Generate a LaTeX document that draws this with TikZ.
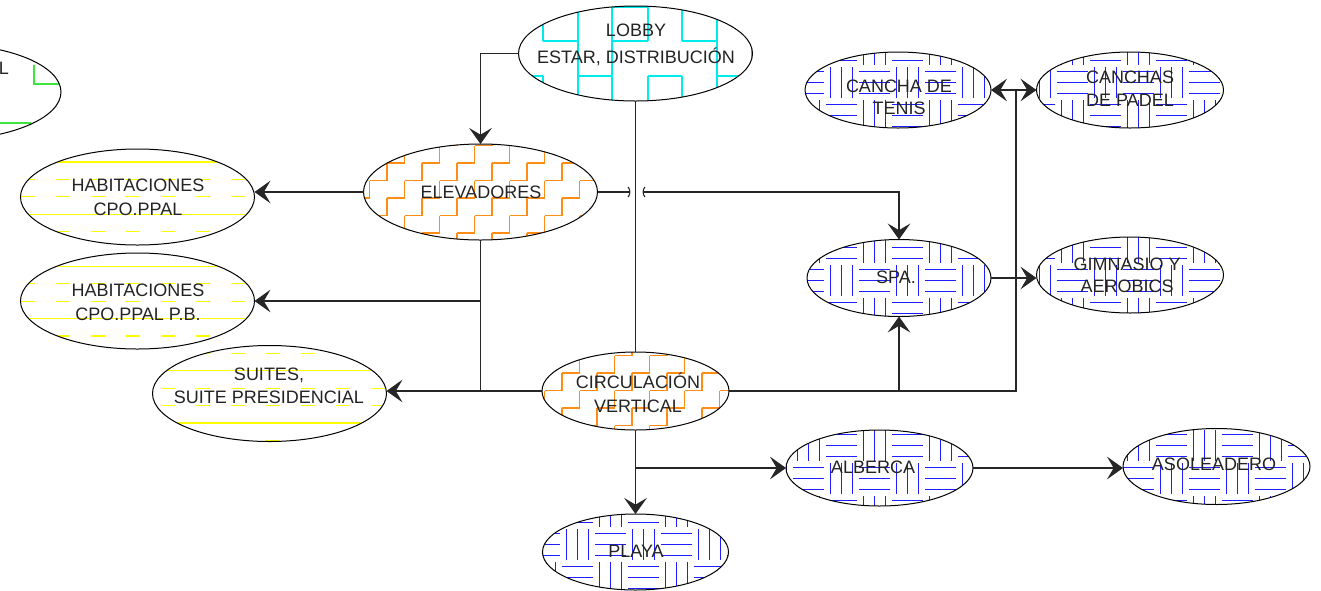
\documentclass[tikz,border=0pt]{standalone}
\usepackage{fontspec}
\setmainfont{Liberation Sans}
\usetikzlibrary{shapes.geometric,arrows.meta,calc}

\definecolor{hatchblue}{RGB}{30,30,255}
\definecolor{hatchorange}{RGB}{255,140,20}
\definecolor{hatchyellow}{RGB}{255,255,0}
\definecolor{hatchcyan}{RGB}{0,235,235}
\definecolor{hatchgreen}{RGB}{60,230,60}
\definecolor{ink}{RGB}{35,35,35}

\tikzset{
  x=0.75pt, y=-0.75pt,
  bigell/.style={ellipse, draw=black, line width=0.75pt, inner sep=0pt, outer sep=0pt,
    minimum width=175.5pt, minimum height=72pt},
  smallell/.style={ellipse, draw=black, line width=0.75pt, inner sep=0pt, outer sep=0pt,
    minimum width=139.5pt, minimum height=57pt},
  lbl/.style={align=center, text=ink, inner sep=0pt, font=\fontsize{13.5}{18}\selectfont},
  wire/.style={draw=black!85, line width=0.8pt},
  tip/.tip={Stealth[length=12pt, width=17pt, inset=5pt]},
  arr/.style={wire, -tip},
  weave/.style={draw=hatchblue, line width=0.85pt},
  stair/.style={draw=hatchorange, line width=0.8pt},
  stripe/.style={draw=hatchyellow, line width=0.9pt},
  gridline/.style={line width=0.8pt},
}

% basket-weave hatch clipped to an ellipse: centre x, centre y, x radius, y radius
\newcommand{\weavefill}[4]{%
  \begin{scope}
    \clip (#1,#2) ellipse [x radius=#3, y radius=#4];
    \pgfmathtruncatemacro\wia{(#1-#3)/33-1}
    \pgfmathtruncatemacro\wib{(#1+#3)/33+1}
    \pgfmathtruncatemacro\wja{(#2-#4)/33-1}
    \pgfmathtruncatemacro\wjb{(#2+#4)/33+1}
    \foreach \i in {\wia,...,\wib}{
      \foreach \j in {\wja,...,\wjb}{
        \pgfmathtruncatemacro\wpar{mod(\i+\j,2)}
        \ifnum\wpar=0
          \foreach \k in {5.5,16.5,27.5}
            \draw[weave] ({\i*33+1},{\j*33+\k}) -- ++(31,0);
        \else
          \foreach \k in {5.5,16.5,27.5}
            \draw[weave] ({\i*33+\k},{\j*33+1}) -- ++(0,31);
        \fi
      }
    }
  \end{scope}}

% stair-step hatch clipped to an ellipse
\newcommand{\stairfill}[4]{%
  \begin{scope}
    \clip (#1,#2) ellipse [x radius=#3, y radius=#4];
    \pgfmathtruncatemacro\sia{(#1-#3-19.5)/17.5-2}
    \pgfmathtruncatemacro\sib{(#1+#3-19.5)/17.5+1}
    \pgfmathtruncatemacro\sja{(#2-#4-5.5)/17.5-1}
    \pgfmathtruncatemacro\sjb{(#2+#4-5.5)/17.5+2}
    \foreach \p in {\sia,...,\sib}{
      \foreach \q in {\sja,...,\sjb}{
        \pgfmathtruncatemacro\spar{mod(\p+\q,2)}
        \ifnum\spar=0
          \draw[stair] ({\p*17.5+19.5},{\q*17.5+5.5}) -- ++(17.5,0) -- ++(0,-17.5);
        \fi
      }
    }
  \end{scope}}

% horizontal stripes (one solid, two dashed) clipped to an ellipse
\newcommand{\stripefill}[4]{%
  \begin{scope}
    \clip (#1,#2) ellipse [x radius=#3, y radius=#4];
    \pgfmathtruncatemacro\yka{(#2-#4-5.4)/17.4}
    \pgfmathtruncatemacro\ykb{(#2+#4-5.4)/17.4+1}
    \foreach \k in {\yka,...,\ykb}{
      \pgfmathtruncatemacro\ymod{mod(\k,3)}
      \ifnum\ymod=0
        \draw[stripe] (0,{\k*17.4+5.4}) -- (420,{\k*17.4+5.4});
      \else
        \draw[stripe, dash pattern=on 10.5pt off 15.75pt] (21,{\k*17.4+5.4}) -- (420,{\k*17.4+5.4});
      \fi
    }
  \end{scope}}

\begin{document}
\begin{tikzpicture}
  \useasboundingbox (0,0) rectangle (1321,590);
  \clip (0,0) rectangle (1321,590);

  % ---------- hatching ----------
  \begin{scope}
    \clip (-56,92) ellipse [x radius=117, y radius=48];
    \draw[hatchgreen, gridline] (34,65) -- (34,84) -- (60,84) (0,123) -- (31,123);
  \end{scope}

  \begin{scope}
    \clip (635.5,53.5) ellipse [x radius=117, y radius=47.5];
    \draw[hatchcyan, gridline]
      (612,7) -- (648,7)
      (543,41) -- (578,41) (612,41) -- (648,41) (682,41) -- (717,41)
      (530,76) -- (543,76) (578,76) -- (612,76) (648,76) -- (682,76) (717,76) -- (752,76)
      (543,25) -- (543,41) (543,76) -- (543,92)
      (578,0) -- (578,101) (612,0) -- (612,101)
      (648,0) -- (648,41) (648,76) -- (648,101)
      (682,0) -- (682,41) (682,76) -- (682,101)
      (717,0) -- (717,101) (752,41) -- (752,76);
  \end{scope}

  \stairfill{480.5}{192}{117}{48}
  \stairfill{635.5}{391}{93.5}{39}
  \stripefill{137.5}{197}{117}{48}
  \stripefill{137.5}{301}{117}{48}
  \stripefill{269.5}{393.5}{117}{48}
  \weavefill{898}{90}{93}{38}
  \weavefill{1130}{90}{93.5}{38}
  \weavefill{899}{278}{92}{38.5}
  \weavefill{1130}{275}{93.5}{38}
  \weavefill{879.5}{468}{93.5}{38}
  \weavefill{1216.5}{466.5}{93.5}{38}
  \weavefill{635.5}{552}{93}{38}

  % ---------- ellipses ----------
  \node[bigell] (lpart) at (-56,92) {};
  \node[bigell, minimum height=71.25pt] (lobby) at (635.5,53.5) {};
  \node[bigell] (elev) at (480.5,192) {};
  \node[bigell] (hab1) at (137.5,197) {};
  \node[bigell] (hab2) at (137.5,301) {};
  \node[bigell] (suites) at (269.5,393.5) {};
  \node[smallell, minimum width=140.25pt, minimum height=58.5pt] (circ) at (635.5,391) {};
  \node[smallell] (tenis) at (898,90) {};
  \node[smallell, minimum width=140.25pt] (padel) at (1130,90) {};
  \node[smallell, minimum width=138pt, minimum height=57.75pt] (spa) at (899,278) {};
  \node[smallell, minimum width=140.25pt] (gym) at (1130,275) {};
  \node[smallell, minimum width=140.25pt] (alberca) at (879.5,468) {};
  \node[smallell, minimum width=140.25pt] (asol) at (1216.5,466.5) {};
  \node[smallell] (playa) at (635.5,552) {};

  % ---------- labels ----------
  \node[lbl] (lpartT) at (4,68) {L};
  \node[lbl, font=\fontsize{13.5}{20.25}\selectfont] (lobbyT) at (636,44.5) {LOBBY\\ESTAR, DISTRIBUCIÓN};
  \node[lbl] (elevT) at (481,192.5) {ELEVADORES};
  \node[lbl] (hab1T) at (138,197) {HABITACIONES\\CPO.PPAL};
  \node[lbl] (hab2T) at (138,302.5) {HABITACIONES\\CPO.PPAL P.B.};
  \node[lbl, font=\fontsize{13.5}{17.25}\selectfont] (suitesT) at (269,385.5) {SUITES,\\SUITE PRESIDENCIAL};
  \node[lbl] (circT) at (638,393) {CIRCULACIÓN\\VERTICAL};
  \node[lbl, font=\fontsize{13.5}{16.5}\selectfont] (tenisT) at (899,97) {CANCHA DE\\TENIS};
  \node[lbl, font=\fontsize{13.5}{17.25}\selectfont] (padelT) at (1130,88.5) {CANCHAS\\DE PADEL};
  \node[lbl] (spaT) at (896,277.5) {SPA.};
  \node[lbl, font=\fontsize{13.5}{16.5}\selectfont] (gymT) at (1127,275.5) {GIMNASIO Y\\AEROBICS};
  \node[lbl] (albercaT) at (873,467) {ALBERCA};
  \node[lbl] (asolT) at (1214,464.5) {ASOLEADERO};
  \node[lbl] (playaT) at (636,551) {PLAYA};

  % ---------- connectors ----------
  \coordinate (hub) at (1016,90);
  \coordinate (jumpL) at (630,192);
  \coordinate (jumpR) at (643,192);

  \draw[arr] (lobby.west) -| (elev.north);
  \draw[wire] (lobby.south) -- (circ.north);

  \draw[arr] (elev.west) -- (elev.west -| hab1.east);
  \draw[wire] (elev.south) -- (elev.south |- circ.west);
  \draw[arr] (elev.south |- hab2.east) -- (hab2.east);
  \draw[arr] (circ.west) -- (circ.west -| suites.east);

  % line hop over the lobby riser
  \draw[wire] (elev.east) -- (jumpL);
  \draw[wire] ([shift={(-2,-5)}]jumpL) .. controls +(2.5,2.5) and +(2.5,-2.5) .. ([shift={(-2,5)}]jumpL);
  \draw[wire] ([shift={(2,-5)}]jumpR) .. controls +(-2.5,2.5) and +(-2.5,-2.5) .. ([shift={(2,5)}]jumpR);
  \draw[arr] (jumpR) -| (spa.north);

  \draw[wire] (circ.east) -- (circ.east -| hub) -- (hub);
  \draw[arr] (spa.south |- circ.east) -- (spa.south);
  \draw[wire, tip-tip] (tenis.east) -- (padel.west);
  \draw[arr] (spa.east) -- (spa.east -| gym.west);

  \draw[arr] (circ.south) -- (playa.north);
  \draw[arr] (circ.south |- alberca.west) -- (alberca.west);
  \draw[arr] (alberca.east) -- (alberca.east -| asol.west);
\end{tikzpicture}
\end{document}
